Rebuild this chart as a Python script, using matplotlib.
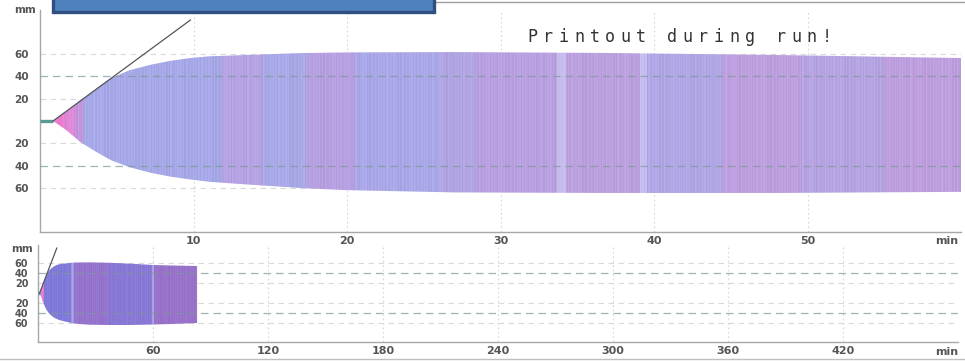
import numpy as np
import matplotlib
matplotlib.use("Agg")
import matplotlib.pyplot as plt
from matplotlib.patches import Rectangle
from matplotlib.lines import Line2D
from matplotlib.colors import to_rgb

# ---------------- data ----------------
time_min = [0.85, 1.7, 2.6, 3.6, 4.6, 5.8, 7.2, 8.5, 9.8, 11, 13, 17, 20, 27, 37, 48, 60, 70, 83]
upper_mm = [0, 8, 18, 28, 38, 45, 50, 53.5, 56, 57.5, 58.5, 60.4, 61, 61.3, 60.5, 58.7, 56, 55, 54]
lower_mm = [0, 8, 18.4, 27, 34.7, 41, 46, 49.5, 52, 54, 56, 59.6, 61.5, 63.5, 64, 64, 63, 62, 60]

baseline_time = [0, 0.85]
baseline_mm = [0, 0]

tangent_time = [0.85, 9.8]
tangent_mm = [0, 89.8]

top_xticks = [10, 20, 30, 40, 50]
top_xlabels = ["10", "20", "30", "40", "50"]
bottom_xticks = [60, 120, 180, 240, 300, 360, 420]
bottom_xlabels = ["60", "120", "180", "240", "300", "360", "420"]
y_ticks = [60, 40, 20, -20, -40, -60]
y_labels = ["60", "40", "20", "20", "40", "60"]

banner_text = "Printout during run!"

# colour bands of the trace (start min, end min, colour)
bands_top = [
    (0.0, 1.6, "#ec7ccf"), (1.6, 2.2, "#dc88d6"), (2.2, 2.8, "#c396dc"),
    (2.8, 11.8, "#a6a8e6"), (11.8, 14.5, "#b4a2e2"), (14.5, 17.3, "#a8a8e6"),
    (17.3, 20.5, "#b6a0e0"), (20.5, 26.0, "#a9a7e6"), (26.0, 28.4, "#b0a4e2"),
    (28.4, 33.7, "#b8a0e0"), (33.7, 34.2, "#c6bcec"), (34.2, 39.1, "#baa0de"),
    (39.1, 39.5, "#c4bcec"), (39.5, 44.5, "#b0a6e4"), (44.5, 49.7, "#bc9fdd"),
    (49.7, 55.0, "#b4a3e0"), (55.0, 61.0, "#bd9edd"),
]
bands_bottom = [
    (0.0, 3.0, "#e07cd4"), (3.0, 17.3, "#7f7ad8"), (17.3, 18.6, "#a49ce0"),
    (18.6, 37.0, "#9474cc"), (37.0, 59.2, "#8878d4"), (59.2, 60.8, "#aaa2e2"),
    (60.8, 84.0, "#9872c8"),
]
texture = [1.0, 1.03, 0.98, 1.02, 0.97, 1.04, 1.0, 0.985, 1.02, 0.99, 1.035]

W, H = 965, 361
fig = plt.figure(figsize=(W / 100, H / 100), dpi=100)
fig.patch.set_facecolor("white")


def px_axes(x0, x1, y0, y1):
    return fig.add_axes([x0 / W, 1 - y1 / H, (x1 - x0) / W, (y1 - y0) / H])


def band_image(bands, t0, t1, ncols):
    ts = np.linspace(t0, t1, ncols)
    img = np.ones((1, ncols, 3))
    for a, b, c in bands:
        m = (ts >= a) & (ts < b)
        img[0, m] = to_rgb(c)
    fac = np.array([texture[i % len(texture)] for i in range(ncols)])
    img[0] = np.clip(img[0] * fac[:, None], 0, 1)
    return img


def draw_panel(ax, xmax, ylim, bands, xticks, xlabels, ncols, ylab_size, xlab_size, ypad):
    # grid
    for y in y_ticks:
        if abs(y) == 40:
            ax.axhline(y, color="#7e9a98", lw=0.9, dashes=(6, 4), zorder=3, alpha=0.75)
        else:
            ax.axhline(y, color="#d6dada", lw=0.8, dashes=(5, 4), zorder=1)
    for x in xticks:
        ax.axvline(x, color="#d3d7dc", lw=0.8, dashes=(1.5, 2.5), zorder=1)
    # trace
    t_end = time_min[-1]
    img = band_image(bands, 0, t_end + 1, ncols)
    im = ax.imshow(img, extent=[0, t_end + 1, -80, 80], aspect="auto",
                   interpolation="nearest", zorder=2)
    poly = ax.fill_between(time_min, [-v for v in lower_mm], upper_mm,
                           facecolor="none", edgecolor="none", zorder=2)
    im.set_clip_path(poly.get_paths()[0], transform=ax.transData)
    ax.plot(baseline_time, baseline_mm, color="#5a9c92", lw=2.4, zorder=3,
            solid_capstyle="butt")
    ax.plot(tangent_time, tangent_mm, color="#555555", lw=0.9, zorder=4)
    ax.set_xlim(0, xmax)
    ax.set_ylim(*ylim)
    ax.set_xticks(xticks)
    ax.set_xticklabels(xlabels)
    ax.set_yticks(y_ticks)
    ax.set_yticklabels(y_labels)
    ax.tick_params(axis="both", length=0, colors="#555555")
    ax.tick_params(axis="x", pad=3, labelsize=xlab_size)
    ax.tick_params(axis="y", pad=ypad, labelsize=ylab_size)
    for lab in ax.get_xticklabels() + ax.get_yticklabels():
        lab.set_fontweight("bold")
    for s in ["top", "right"]:
        ax.spines[s].set_visible(False)
    for s in ["left", "bottom"]:
        ax.spines[s].set_color("#a8a8a8")
        ax.spines[s].set_linewidth(1.0)
    ax.set_facecolor("none")


ax1 = px_axes(40, 961, 10, 232)
draw_panel(ax1, 60, (-98.7, 98.7), bands_top, top_xticks, top_xlabels, 920, 7.5, 8, 8)

ax2 = px_axes(38, 958, 245, 342)
draw_panel(ax2, 480, (-98, 96), bands_bottom, bottom_xticks, bottom_xlabels, 180, 7, 8, 7)

# axis unit labels
def ftext(x, y, s, **kw):
    fig.text(x / W, 1 - y / H, s, **kw)

ftext(25, 10, "mm", ha="center", va="center", fontsize=7.5, fontweight="bold", color="#555555")
ftext(22, 249, "mm", ha="center", va="center", fontsize=7.5, fontweight="bold", color="#555555")
ftext(958, 241, "min", ha="right", va="center", fontsize=8, fontweight="bold", color="#555555")
ftext(958, 352, "min", ha="right", va="center", fontsize=8, fontweight="bold", color="#555555")

# letter-spaced banner text
pitch = 15.5
for i, ch in enumerate(banner_text):
    ftext(525 + pitch * (i + 0.5), 37, ch, ha="center", va="center",
          fontsize=12, family="DejaVu Sans Mono", color="#333333")

# overlay box at the top
fig.patches.append(Rectangle((53 / W, 1 - 12 / H), (434 - 53) / W, 30 / H,
                             transform=fig.transFigure, facecolor="#4f81bd",
                             edgecolor="#2f507e", linewidth=2.4, zorder=10))
# page lines
fig.add_artist(Line2D([436 / W, 1], [1 - 1.5 / H, 1 - 1.5 / H], color="#a0a0a0", lw=1.0))
fig.add_artist(Line2D([0, 1], [1 - 359 / H, 1 - 359 / H], color="#c0c0c0", lw=1.0))

fig.savefig("out.png", dpi=100)
